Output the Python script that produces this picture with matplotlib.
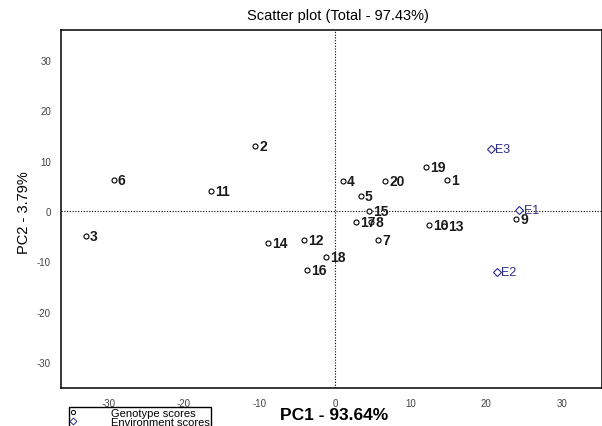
import matplotlib.pyplot as plt
from matplotlib.lines import Line2D

plt.rcParams['font.family'] = ['Liberation Sans', 'DejaVu Sans']
plt.rcParams['axes.unicode_minus'] = False

# Genotype scores
gen_names = ['1', '2', '3', '4', '5', '6', '7', '8', '9', '10',
             '11', '12', '13', '14', '15', '16', '17', '18', '19', '20']
gen_pc1 = [14.8, -10.6, -33.0, 1.0, 3.4, -29.3, 5.7, 4.8, 24.0, 12.4,
           -16.4, -4.1, 14.4, -8.9, 4.5, -3.7, 2.8, -1.2, 12.1, 6.6]
gen_pc2 = [6.2, 12.9, -4.9, 6.0, 3.0, 6.1, -5.7, -2.2, -1.6, -2.8,
           4.0, -5.7, -3.0, -6.3, -0.1, -11.7, -2.3, -9.1, 8.7, 6.0]

# Environment scores
env_names = ['E1', 'E2', 'E3']
env_pc1 = [24.4, 21.4, 20.6]
env_pc2 = [0.1, -12.2, 12.3]

navy = '#2b2f8a'

fig = plt.figure(figsize=(6.02, 4.27), dpi=100)
ax = fig.add_axes([0.1008, 0.089, 0.9, 0.839])

# dotted reference lines through the origin
ax.axvline(0, color='black', ls=(0, (1, 1.5)), lw=0.8, zorder=1)
ax.axhline(0, color='black', ls=(0, (1, 1.5)), lw=0.8, zorder=1)

ax.plot(gen_pc1, gen_pc2, 'o', ms=3.6, mfc='white', mec='black', mew=0.8, ls='none', zorder=3)
for name, x, y in zip(gen_names, gen_pc1, gen_pc2):
    ax.annotate(name, (x, y), xytext=(3, 0), textcoords='offset points',
                va='center', ha='left', fontsize=10, fontweight='bold', color='#1a1a1a')

ax.plot(env_pc1, env_pc2, 'D', ms=4, mfc='white', mec=navy, mew=0.8, ls='none', zorder=3)
for name, x, y in zip(env_names, env_pc1, env_pc2):
    ax.annotate(name, (x, y), xytext=(3, 0), textcoords='offset points',
                va='center', ha='left', fontsize=9, color=navy)

ax.set_xlim(-36.3, 35.4)
ax.set_ylim(-35.2, 36.0)
ax.set_xticks([-30, -20, -10, 0, 10, 20, 30])
ax.set_yticks([-30, -20, -10, 0, 10, 20, 30])
ax.tick_params(length=0, labelsize=7, labelcolor='#444444', pad=7)
for s in ax.spines.values():
    s.set_linewidth(1.1)

fig.text(0.561, 0.962, 'Scatter plot (Total - 97.43%)', ha='center', va='center', fontsize=10.5)
fig.text(0.555, 0.026, 'PC1 - 93.64%', ha='center', va='center', fontsize=12.5, fontweight='bold')
fig.text(0.040, 0.503, 'PC2 - 3.79%', ha='center', va='center', rotation=90, fontsize=10.5)

handles = [Line2D([], [], marker='o', ls='none', ms=3, mfc='white', mec='black', mew=0.7),
           Line2D([], [], marker='D', ls='none', ms=3.5, mfc='white', mec=navy, mew=0.7)]
fig.legend(handles, ['Genotype scores', 'Environment scores'], loc='upper left',
           bbox_to_anchor=(0.1146, 0.0445), fontsize=8, frameon=True, fancybox=False,
           edgecolor='black', framealpha=1, borderpad=0.1, labelspacing=-0.1,
           handlelength=0.5, handletextpad=3.2, borderaxespad=0)

fig.savefig('out.png', dpi=100)
